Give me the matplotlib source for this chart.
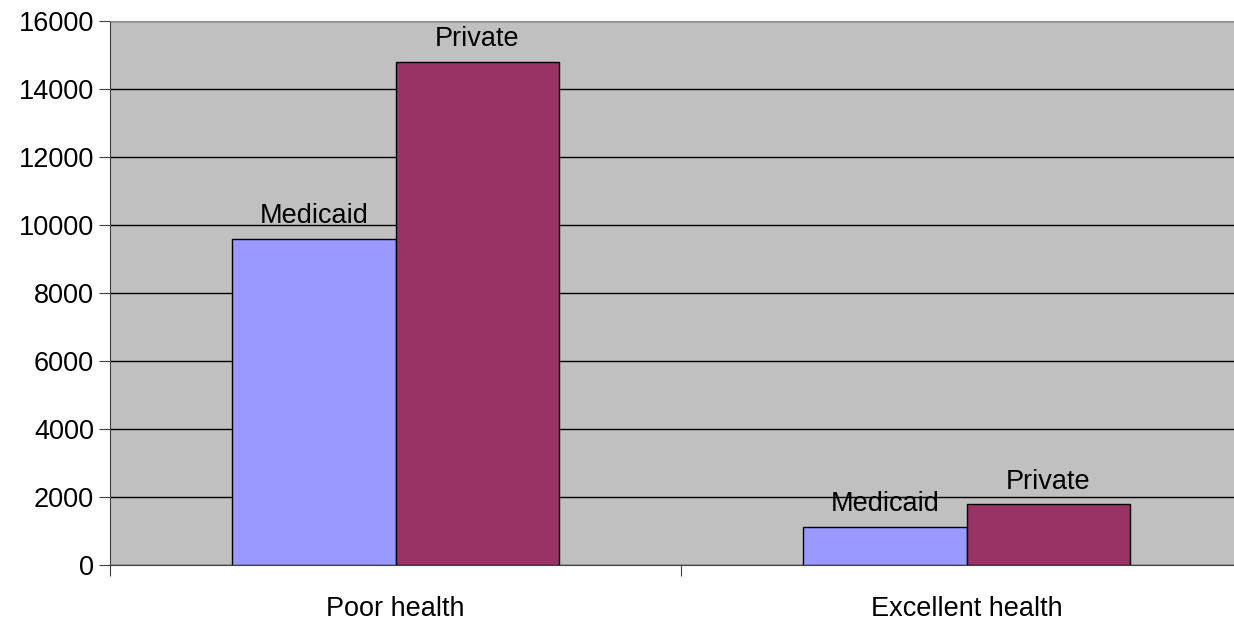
import numpy as np
import matplotlib
matplotlib.use("Agg")
import matplotlib.pyplot as plt

plt.rcParams['font.family'] = ['Liberation Sans', 'DejaVu Sans']

categories = ['Poor health', 'Excellent health']
series_names = ['Medicaid', 'Private']
medicaid = [9600, 1130]
private = [14800, 1780]
colors = ['#9999FF', '#993366']

fig = plt.figure(figsize=(12.34, 6.21), dpi=100)
# plot area runs past the right edge, as in the original
ax = fig.add_axes([110 / 1234, 1 - 565 / 621, 1142 / 1234, 544 / 621])
ax.set_facecolor('#C0C0C0')

x = np.arange(len(categories))
w = 0.286
for vals, name, col, off in zip([medicaid, private], series_names, colors, [-w / 2, w / 2]):
    bars = ax.bar(x + off, vals, width=w, color=col, edgecolor='black', linewidth=1, zorder=3)
    for b in bars:
        ax.annotate(name, (b.get_x() + b.get_width() / 2, b.get_height()),
                    xytext=(0, 7), textcoords='offset points',
                    ha='center', va='bottom', fontsize=19.5, zorder=4)

ax.set_xlim(-0.5, 1.5)
ax.set_ylim(0, 16000)
ax.set_yticks(np.arange(0, 16001, 2000))
ax.yaxis.grid(True, color='black', linewidth=1, zorder=1)
ax.tick_params(axis='y', labelsize=19.5, length=8, direction='out', color='#404040')

# category boundaries get tick marks, names sit between them
ax.set_xticks([-0.5, 0.5, 1.5])
ax.set_xticklabels([])
ax.set_xticks(x, minor=True)
ax.set_xticklabels(categories, minor=True)
ax.tick_params(axis='x', which='major', length=8, color='#404040')
ax.tick_params(axis='x', which='minor', length=0, labelsize=19.5, pad=22)

ax.spines['left'].set_color('#404040')
ax.spines['bottom'].set_color('#404040')
ax.spines['top'].set_color('#909090')
ax.spines['right'].set_visible(False)

fig.savefig('out.png', dpi=100)
